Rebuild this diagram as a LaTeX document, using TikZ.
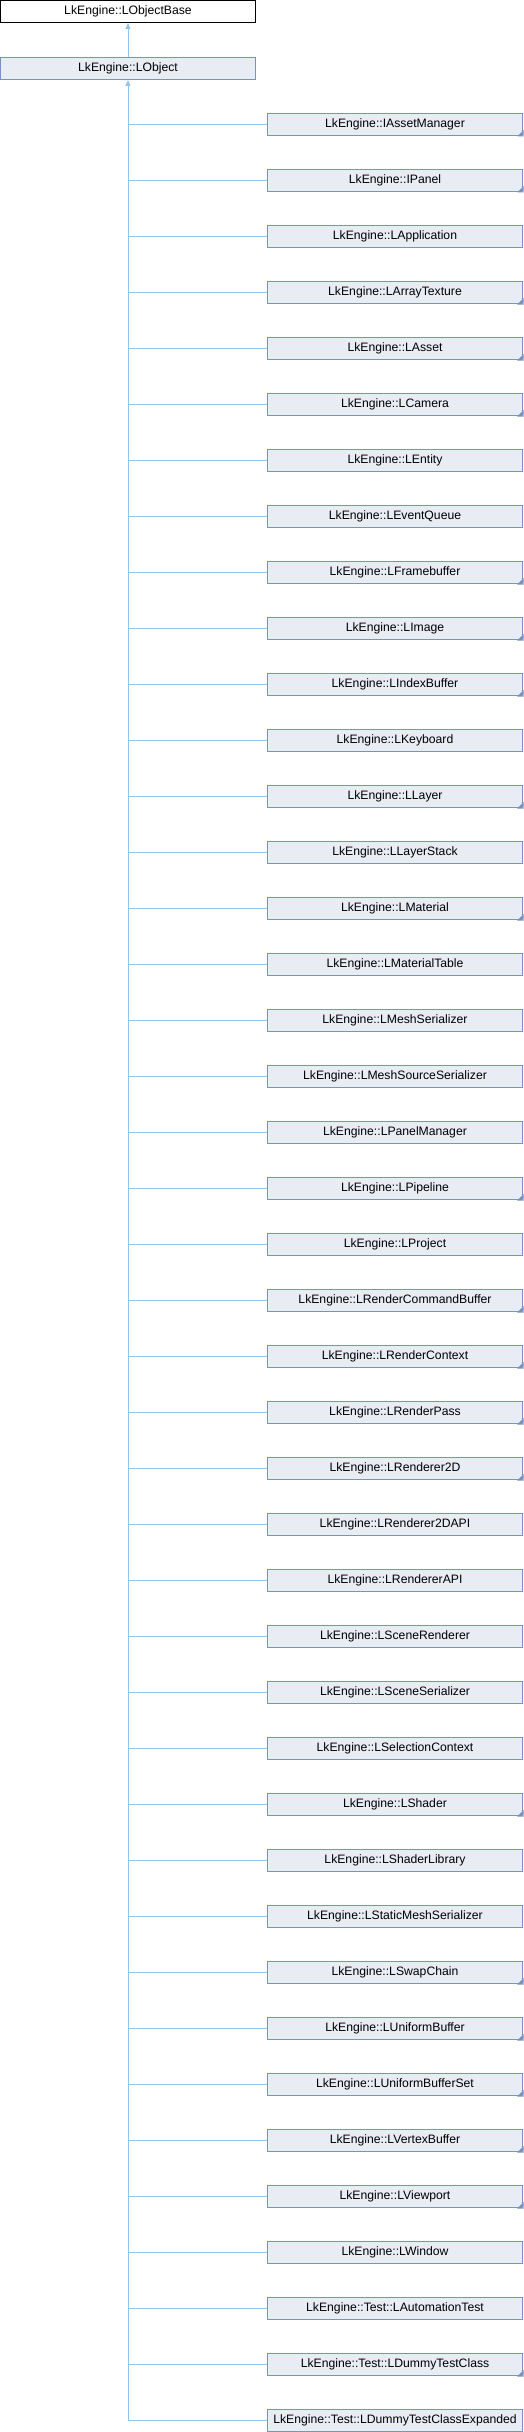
\documentclass[tikz,border=0pt]{standalone}
\usepackage{fontspec}
\setmainfont{Liberation Sans}
\usepackage{tikz}
\usetikzlibrary{arrows.meta}
\definecolor{boxfill}{RGB}{232,236,245}
\definecolor{boxline}{RGB}{122,145,200}
\definecolor{edgeblue}{RGB}{143,199,235}
\tikzset{cls/.style={rectangle,draw=boxline,fill=boxfill,line width=1pt,minimum width=255pt,minimum height=22pt,inner sep=0pt,font=\fontsize{12.2}{14}\selectfont},
  base/.style={cls,draw=black,fill=white},
  inh/.style={draw=edgeblue,line width=1pt},
  tip/.style={-{Triangle[width=5pt,length=6pt]}}}

\begin{document}
\begin{tikzpicture}[x=1pt,y=-1pt]
    \useasboundingbox (0,0) rectangle (524,2432);
    \node[base] (lbase)at (128,11.5) {LkEngine::LObjectBase};
    \node[cls] (lobj)at (128,68.5) {LkEngine::LObject};
    \draw [inh,tip] (lobj) to (lbase);

    % derived classes, 1 = has own subclasses (corner mark)
    \foreach \nm/\mk [count=\i from 0] in {IAssetManager/1,IPanel/1,LApplication/0,LArrayTexture/1,LAsset/1,LCamera/1,LEntity/0,LEventQueue/0,LFramebuffer/1,LImage/1,LIndexBuffer/1,LKeyboard/0,LLayer/1,LLayerStack/0,LMaterial/1,LMaterialTable/0,LMeshSerializer/0,LMeshSourceSerializer/0,LPanelManager/0,LPipeline/1,LProject/0,LRenderCommandBuffer/1,LRenderContext/1,LRenderPass/1,LRenderer2D/1,LRenderer2DAPI/0,LRendererAPI/0,LSceneRenderer/0,LSceneSerializer/0,LSelectionContext/0,LShader/1,LShaderLibrary/0,LStaticMeshSerializer/0,LSwapChain/1,LUniformBuffer/1,LUniformBufferSet/1,LVertexBuffer/1,LViewport/1,LWindow/0,Test::LAutomationTest/0,Test::LDummyTestClass/1,Test::LDummyTestClassExpanded/0}{
        \node[cls] (c\i)at (395,124.5+56*\i) {LkEngine::\nm};
        \draw [inh] (c\i.west) to (c\i.west -| lobj.south);
        \ifnum\mk=1
            \fill[boxline] ([shift={(0.5,0.5)}]c\i.south east) -- ++(-6.5,0) -- ++(6.5,-6.5) -- cycle;
        \fi
    }
    \draw [inh,tip] (c41.west -| lobj.south) to (lobj);
\end{tikzpicture}
\end{document}
